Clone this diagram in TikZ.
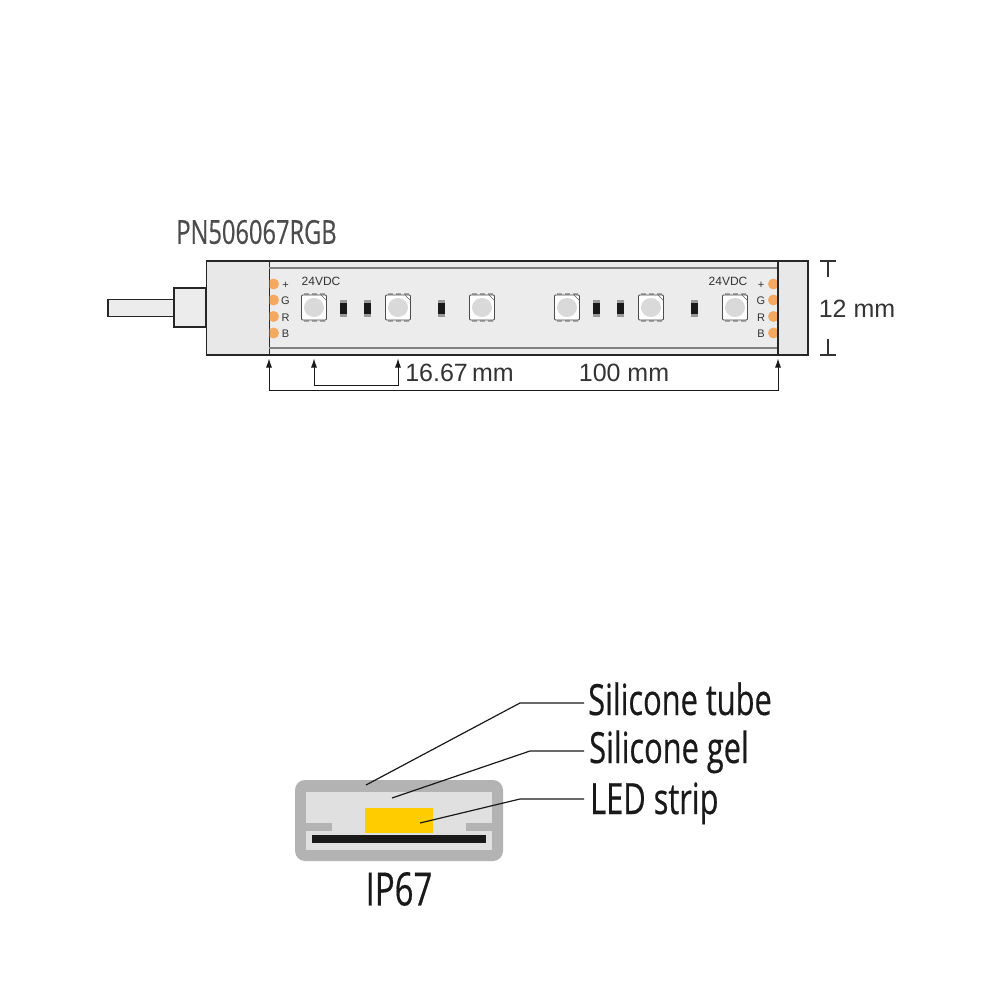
\documentclass[tikz,border=0pt]{standalone}
\usepackage{fontspec}
\usepackage{tikz}
\usetikzlibrary{arrows.meta}
\usetikzlibrary{calc}
\setmainfont{Liberation Sans}
\newfontfamily\condfont[FakeStretch=0.716,FakeBold=0.4]{Open Sans}
\definecolor{stripgray}{HTML}{ECECEC}
\definecolor{capgray}{HTML}{E8E8E8}
\definecolor{tubegray}{HTML}{B3B3B3}
\definecolor{gelgray}{HTML}{E0E0E0}
\definecolor{padorange}{HTML}{F4A960}
\definecolor{ledyellow}{HTML}{FFCC00}
\definecolor{inkgray}{HTML}{333333}
\tikzset{
	box/.style={draw=black!85,line width=1.3pt,inner sep=0pt},
	flat/.style={inner sep=0pt},
	pad/.style={fill=padorange,circle,inner sep=0pt,minimum size=11pt},
	tiny/.style={font=\fontsize{11}{11}\selectfont,text=inkgray,inner sep=0pt},
	dimtext/.style={font=\fontsize{25}{26}\selectfont,text=inkgray,inner sep=0pt},
	bigtext/.style={font=\condfont\fontsize{43}{44}\selectfont,text=black!90,inner sep=0pt,anchor=west,text height=32pt,text depth=8pt},
	leader/.style={draw=black!90,line width=1.2pt}
}
\begin{document}
\begin{tikzpicture}[x=1pt,y=-1pt,>/.tip={Latex[length=9pt,width=6pt]}]
	\useasboundingbox (0,0) rectangle (1000,1000);
	\draw (256.5,232) node(title) [font=\condfont\fontsize{33}{34}\selectfont,text=black!70,inner sep=0pt] {PN506067RGB};
	% cable and strip
	\draw (141,308) node(cable) [box,fill=stripgray,minimum width=66pt,minimum height=17pt] {};
	\draw (190,307.5) node(plug) [box,fill=stripgray,minimum width=32pt,minimum height=39pt] {};
	\draw (523.5,308) node(strip) [box,fill=stripgray,minimum width=509pt,minimum height=94pt] {};
	\draw (238,308) node(capL) [box,fill=capgray,minimum width=63pt,minimum height=94pt] {};
	\draw[gray,line width=1.2pt] (269,268) coordinate (railA) -- (778,268) coordinate (railB);
	\draw[gray,line width=1.2pt] (269,348) coordinate (railC) -- (778,348) coordinate (railD);
	% solder pads
	\foreach \py/\pname in {284/+,300/G,316.5/R,333/B} {
		\begin{scope}
			\clip (269.7,\py-6) rectangle (285,\py+6);
			\node[pad] (padL\py) at (273.5,\py) {};
		\end{scope}
		\begin{scope}
			\clip (762,\py-6) rectangle (777.3,\py+6);
			\node[pad] (padR\py) at (773.5,\py) {};
		\end{scope}
		\node[tiny] (txtL\py) at (285.5,\py+1) {\pname};
		\node[tiny] (txtR\py) at (761,\py+1) {\pname};
	}
	\draw (321,281.5) node(voltL) [tiny,font=\fontsize{12}{12}\selectfont] {24VDC};
	\draw (728,281.5) node(voltR) [tiny,font=\fontsize{12}{12}\selectfont] {24VDC};
	% LED chips
	\foreach \lx in {314,398,482,567,651,735} {
		\foreach \tx in {-8,0,8} {
			\fill[gray!70] (\lx+\tx-2.5,293) rectangle (\lx+\tx+2.5,322);
		}
		\node[draw=black!70,fill=white,line width=.8pt,rounded corners=1pt,minimum width=25pt,minimum height=25pt,inner sep=0pt] (led\lx) at (\lx,307.5) {};
		\fill[black!15] (led\lx) ellipse (10pt and 9.5pt);
		\draw[black!60,line width=.5pt] (\lx+7,295) -- (\lx+12.5,300.5);
	}
	% resistors
	\foreach \rx in {343,367,441,596,620,694} {
		\node[fill=gray!80,minimum width=7pt,minimum height=17pt,inner sep=0pt] (resEnd\rx) at (\rx,308.5) {};
		\node[fill=black!90,minimum width=7pt,minimum height=11pt,inner sep=0pt] (res\rx) at (\rx,308.5) {};
	}
	\draw (793,308) node(capR) [box,fill=capgray,minimum width=30pt,minimum height=94pt] {};
	% dimensions
	\draw (459.5,373) node(pitch) [dimtext] {16.67\,mm};
	\draw (624,373) node(length) [dimtext] {100 mm};
	\draw (857,309) node(width) [dimtext] {12 mm};
	\coordinate (dimL) at (269,358.5);
	\coordinate (dimR) at (778,358.5);
	\coordinate (pitchL) at (314,358.5);
	\coordinate (pitchR) at (398,358.5);
	\draw[<->,black!90,line width=.9pt] (dimL) -- ++(0,31.5) -| (dimR);
	\draw[<->,black!90,line width=.9pt] (pitchL) -- ++(0,26.5) -| (pitchR);
	\coordinate (topA) at (820,261);
	\coordinate (topB) at (836,261);
	\coordinate (topC) at (828,277);
	\coordinate (botA) at (820,355);
	\coordinate (botB) at (836,355);
	\coordinate (botC) at (828,339);
	\draw[inkgray,line width=1.2pt] (topA) -- (topB);
	\draw[inkgray,line width=1.2pt] (topC) -- (topC |- topA);
	\draw[inkgray,line width=1.2pt] (botA) -- (botB);
	\draw[inkgray,line width=1.2pt] (botC) -- (botC |- botA);
	% cross section
	\draw (399,820.5) node(tube) [flat,fill=tubegray,rounded corners=10pt,minimum width=208pt,minimum height=81pt] {};
	\draw (399,821) node(gel) [flat,fill=gelgray,minimum width=186pt,minimum height=58pt] {};
	\draw (319,827) node(ledgeL) [flat,fill=tubegray,minimum width=26pt,minimum height=8pt] {};
	\draw (479,827) node(ledgeR) [flat,fill=tubegray,minimum width=26pt,minimum height=8pt] {};
	\draw (399,820.5) node(chip) [flat,fill=ledyellow,minimum width=68pt,minimum height=25pt] {};
	\draw (399,839) node(board) [flat,fill=black!90,minimum width=174pt,minimum height=8pt] {};
	\draw (588,703) node(lblTube) [bigtext] {Silicone tube};
	\draw (589,751) node(lblGel) [bigtext] {Silicone gel};
	\draw (590,799) node(lblStrip) [bigtext,text height=38pt] {LED strip};
	\draw (399,889) node(lblIP) [font=\condfont\fontsize{46}{47}\selectfont,text=black!90,inner sep=0pt] {IP67};
	\coordinate (ptTube) at (366,785);
	\coordinate (ptGel) at (392,798);
	\coordinate (ptStrip) at (420,823);
	\coordinate (bendTube) at (520,703);
	\coordinate (bendGel) at (530,751);
	\coordinate (bendStrip) at (520,799);
	\draw[leader,shorten >=4pt] (ptTube) -- (bendTube) -- (lblTube.west);
	\draw[leader,shorten >=5pt] (ptGel) -- (bendGel) -- (lblGel.west);
	\draw[leader,shorten >=6pt] (ptStrip) -- (bendStrip) -- (lblStrip.west);
\end{tikzpicture}
\end{document}
